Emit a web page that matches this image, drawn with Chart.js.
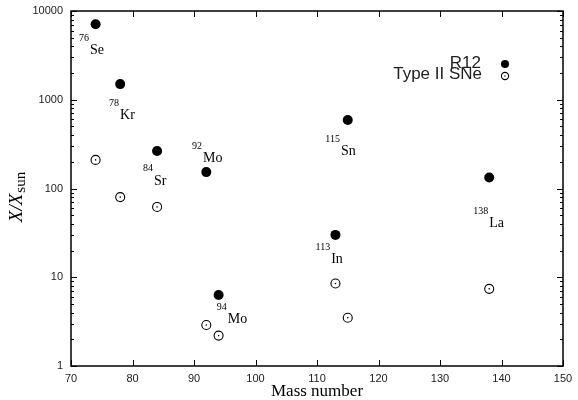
<!DOCTYPE html>
<html>
<head>
<meta charset="utf-8">
<script src="https://cdn.jsdelivr.net/npm/chart.js@4.4.0/dist/chart.umd.min.js"></script>
<style>
  html, body { margin: 0; padding: 0; background: #fff; }
  #wrap { width: 578px; height: 400px; }
</style>
</head>
<body>
<div id="wrap"><canvas id="myChart"></canvas></div>
<script>
// mass numbers and overabundances
const massR12 = [74, 78, 84, 92, 94, 113, 115, 138];
const valR12 = [7100, 1500, 265, 153, 6.3, 30, 590, 133];
const massSNe = [74, 78, 84, 92, 94, 113, 115, 138];
const valSNe = [210, 80, 62, 2.9, 2.2, 8.5, 3.5, 7.4];

// isotope labels
const isoMass = ['76', '78', '84', '92', '94', '113', '115', '138'];
const isoName = ['Se', 'Kr', 'Sr', 'Mo', 'Mo', 'In', 'Sn', 'La'];
// where each label sits (axis units)
const isoLabelX = [73.1, 77.97, 83.5, 91.46, 95.5, 112.3, 113.9, 138.0];
const isoLabelY = [3640, 659, 122, 216, 3.34, 15.8, 259, 40.2];

const xTicks = [70, 80, 90, 100, 110, 120, 130, 140, 150];
const yTicks = [1, 10, 100, 1000, 10000];

const sneData = massSNe.map((m, i) => ({ x: m, y: valSNe[i] }));

const data = {
  datasets: [
    {
      label: 'R12',
      data: massR12.map((m, i) => ({ x: m, y: valR12[i] })),
      pointStyle: 'circle',
      pointRadius: 5,
      pointBackgroundColor: '#000',
      pointBorderWidth: 0,
      showLine: false
    },
    {
      label: 'Type II SNe',
      data: sneData,
      pointStyle: 'circle',
      pointRadius: 4.5,
      pointBackgroundColor: 'rgba(0,0,0,0)',
      pointBorderColor: '#000',
      pointBorderWidth: 1.1,
      showLine: false
    },
    {
      label: 'dot',
      data: sneData,
      pointStyle: 'circle',
      pointRadius: 0.8,
      pointBackgroundColor: '#000',
      pointBorderWidth: 0,
      showLine: false
    }
  ]
};

const framePlugin = {
  id: 'frame',
  afterDraw(chart) {
    const { ctx, chartArea: a, scales: { x, y } } = chart;
    ctx.save();
    ctx.strokeStyle = '#000';
    ctx.lineWidth = 1.5;
    ctx.strokeRect(a.left, a.top, a.right - a.left, a.bottom - a.top);

    ctx.lineWidth = 1;
    ctx.beginPath();
    xTicks.forEach(v => {
      const px = Math.round(x.getPixelForValue(v)) + 0.5;
      ctx.moveTo(px, a.bottom); ctx.lineTo(px, a.bottom - 6);
      ctx.moveTo(px, a.top); ctx.lineTo(px, a.top + 6);
    });
    for (let d = 0; d < 4; d++) {
      for (let m = 1; m <= 10; m++) {
        const v = m * Math.pow(10, d);
        const py = Math.round(y.getPixelForValue(v)) + 0.5;
        const len = (m === 1 || m === 10) ? 6 : 3;
        ctx.moveTo(a.left, py); ctx.lineTo(a.left + len, py);
        ctx.moveTo(a.right, py); ctx.lineTo(a.right - len, py);
      }
    }
    ctx.stroke();

    // isotope labels
    ctx.fillStyle = '#000';
    ctx.textBaseline = 'middle';
    for (let i = 0; i < isoName.length; i++) {
      const lx = x.getPixelForValue(isoLabelX[i]);
      const ly = y.getPixelForValue(isoLabelY[i]);
      ctx.font = '14px "Liberation Serif"';
      ctx.textAlign = 'left';
      ctx.fillText(isoName[i], lx, ly);
      ctx.font = '10px "Liberation Serif"';
      ctx.textAlign = 'right';
      ctx.fillText(isoMass[i], lx - 1, ly - 12);
    }

    // key
    ctx.font = '17px "Liberation Sans"';
    ctx.fillStyle = '#222';
    ctx.textAlign = 'right';
    ctx.fillText('R12', a.right - 82, a.top + 52);
    ctx.fillText('Type II SNe', a.right - 81, a.top + 63);
    ctx.fillStyle = '#000';
    ctx.beginPath();
    ctx.arc(a.right - 58, a.top + 53, 4, 0, Math.PI * 2);
    ctx.fill();
    ctx.lineWidth = 1.1;
    ctx.beginPath();
    ctx.arc(a.right - 58, a.top + 65, 3.6, 0, Math.PI * 2);
    ctx.stroke();
    ctx.beginPath();
    ctx.arc(a.right - 58, a.top + 65, 0.7, 0, Math.PI * 2);
    ctx.fill();

    // axis titles
    ctx.fillStyle = '#000';
    ctx.textAlign = 'center';
    ctx.font = '17px "Liberation Serif"';
    ctx.fillText('Mass number', (a.left + a.right) / 2, 392);

    ctx.translate(22, 197);
    ctx.rotate(-Math.PI / 2);
    ctx.textBaseline = 'alphabetic';
    ctx.textAlign = 'left';
    ctx.font = 'italic 19px "Liberation Serif"';
    const main = 'X/X';
    const w1 = ctx.measureText(main).width;
    ctx.font = '15px "Liberation Serif"';
    const w2 = ctx.measureText('sun').width;
    const start = -(w1 + w2 + 1) / 2;
    ctx.font = 'italic 19px "Liberation Serif"';
    ctx.fillText(main, start, 0);
    ctx.font = '15px "Liberation Serif"';
    ctx.fillText('sun', start + w1 + 1, 3);
    ctx.restore();
  }
};

const config = {
  type: 'scatter',
  data: data,
  options: {
    responsive: false,
    animation: false,
    layout: { padding: { left: 0, right: 15, top: 11, bottom: 0 } },
    plugins: {
      legend: { display: false },
      tooltip: { enabled: false }
    },
    scales: {
      x: {
        type: 'linear',
        min: 70,
        max: 150,
        afterBuildTicks: (s) => { s.ticks = xTicks.map(v => ({ value: v })); },
        afterFit: (s) => { s.height = 34; s.paddingLeft = 0; s.paddingRight = 0; },
        grid: { display: false, drawTicks: false },
        border: { display: false },
        ticks: {
          padding: 6,
          color: '#222',
          font: { family: 'Liberation Sans', size: 11 },
          maxRotation: 0
        }
      },
      y: {
        type: 'logarithmic',
        min: 1,
        max: 10000,
        afterBuildTicks: (s) => { s.ticks = yTicks.map(v => ({ value: v })); },
        afterFit: (s) => { s.width = 71; s.paddingTop = 0; s.paddingBottom = 0; },
        grid: { display: false, drawTicks: false },
        border: { display: false },
        ticks: {
          padding: 8,
          color: '#222',
          font: { family: 'Liberation Sans', size: 11 },
          callback: (v) => String(v)
        }
      }
    }
  },
  plugins: [framePlugin]
};

const ctx = document.getElementById('myChart').getContext('2d');
ctx.canvas.width = 578;
ctx.canvas.height = 400;

const myChart = new Chart(ctx, config);
</script>
</body>
</html>
